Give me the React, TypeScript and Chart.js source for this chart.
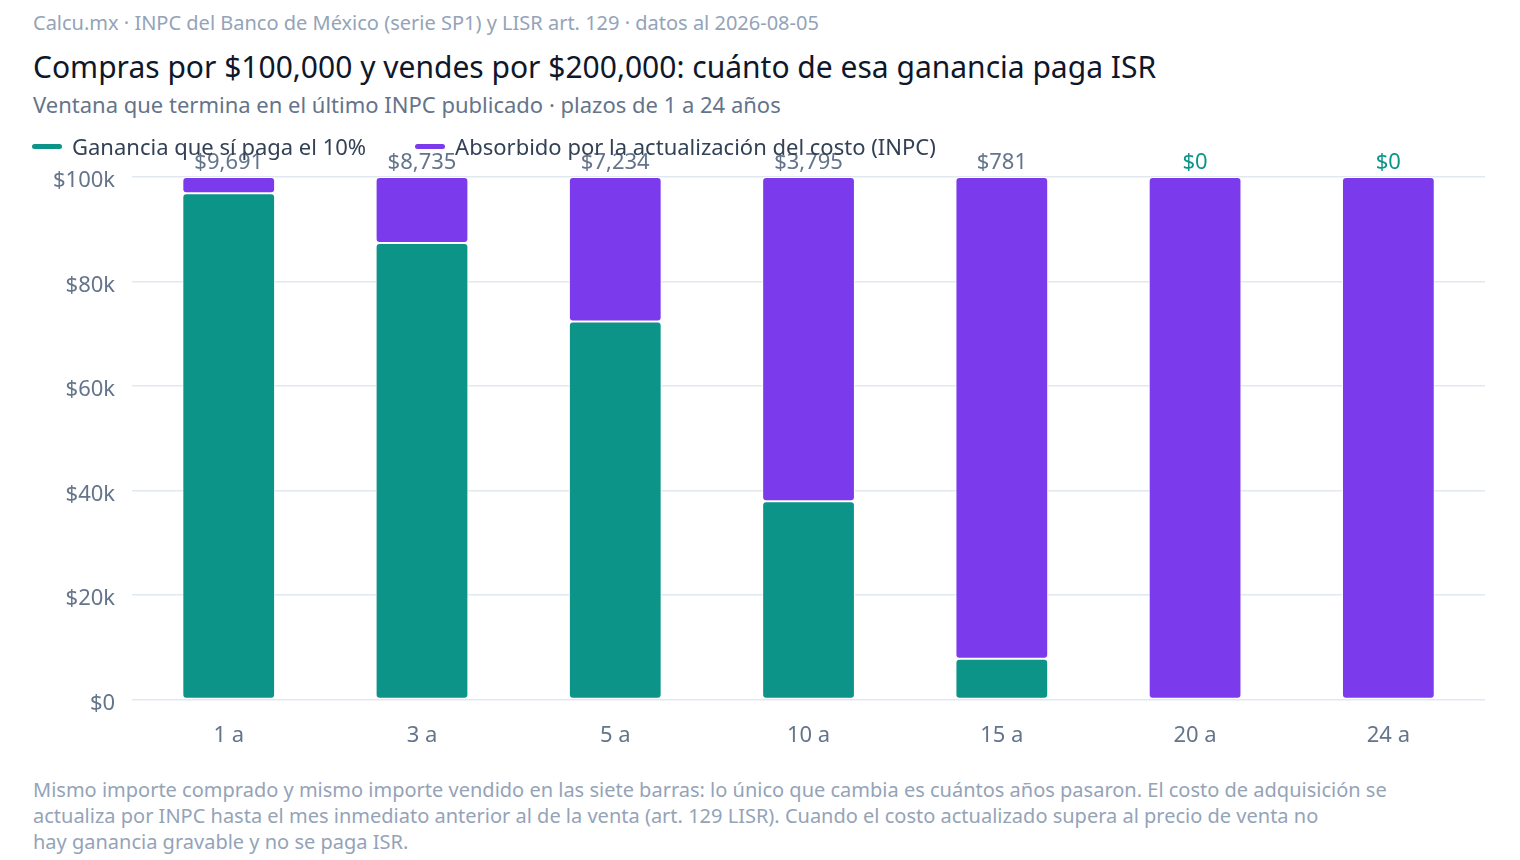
import { useEffect, useRef } from 'react';
import Chart from 'chart.js/auto';

const plazos = ['1 a', '3 a', '5 a', '10 a', '15 a', '20 a', '24 a'];
// ganancia gravable (paga 10%) y parte absorbida por la actualización INPC
const gananciaGravable = [96910, 87350, 72340, 37950, 7810, 0, 0];
const absorbido = [3090, 12650, 27660, 62050, 92190, 100000, 100000];
const isrPagado = [9691, 8735, 7234, 3795, 781, 0, 0];
const seriesNames = ['Ganancia que sí paga el 10%', 'Absorbido por la actualización del costo (INPC)'];

const TEAL = '#0d9488';
const VIOLET = '#7c3aed';
const FONT = "'Noto Sans', sans-serif";

const fmtMoney = (v: number) => '$' + v.toLocaleString('en-US');

export default function App() {
  const canvasRef = useRef<HTMLCanvasElement | null>(null);

  useEffect(() => {
    document.body.style.margin = '0';
    if (!canvasRef.current) return;

    const isrLabels = {
      id: 'isrLabels',
      afterDatasetsDraw(chart: Chart) {
        const { ctx } = chart;
        const meta = chart.getDatasetMeta(1);
        ctx.save();
        ctx.font = `22px ${FONT}`;
        ctx.textAlign = 'center';
        ctx.textBaseline = 'bottom';
        meta.data.forEach((bar: any, i: number) => {
          ctx.fillStyle = isrPagado[i] === 0 ? TEAL : '#64748b';
          ctx.fillText(fmtMoney(isrPagado[i]), bar.x, bar.y - 3);
        });
        ctx.restore();
      }
    };

    const radius = { topLeft: 4, topRight: 4, bottomLeft: 4, bottomRight: 4 };
    const common = {
      borderColor: '#ffffff',
      borderWidth: 1,
      borderRadius: radius,
      borderSkipped: false,
      categoryPercentage: 0.8,
      barPercentage: 0.6
    };

    const chart = new Chart(canvasRef.current, {
      type: 'bar',
      data: {
        labels: plazos,
        datasets: [
          { label: seriesNames[0], data: gananciaGravable, backgroundColor: TEAL, ...common },
          { label: seriesNames[1], data: absorbido, backgroundColor: VIOLET, ...common }
        ]
      },
      options: {
        responsive: true,
        maintainAspectRatio: false,
        animation: false,
        layout: { padding: { left: 0, right: 0, top: 57, bottom: 0 } },
        plugins: {
          legend: { display: false },
          tooltip: { enabled: false }
        },
        scales: {
          x: {
            stacked: true,
            grid: { display: false },
            border: { display: false },
            ticks: { font: { family: FONT, size: 22 }, color: '#64748b', padding: 15 }
          },
          y: {
            stacked: true,
            min: 0,
            max: 100000,
            grid: { color: '#e2e8f0', lineWidth: 1.5, drawTicks: false },
            border: { display: false },
            ticks: {
              stepSize: 20000,
              font: { family: FONT, size: 22 },
              color: '#64748b',
              padding: 17,
              labelOffset: 4,
              callback: (v: any) => (v === 0 ? '$0' : '$' + Number(v) / 1000 + 'k')
            }
          }
        }
      },
      plugins: [isrLabels]
    });

    return () => chart.destroy();
  }, []);

  const legendItem = (color: string, text: string) => (
    <div style={{ display: 'flex', alignItems: 'center', marginRight: 49 }}>
      <span style={{ width: 30, height: 5, borderRadius: 3, background: color, marginRight: 10 }} />
      <span>{text}</span>
    </div>
  );

  return (
    <div style={{ fontFamily: FONT, width: 1520, height: 860, position: 'relative', background: '#fff', overflow: 'hidden' }}>
      <div style={{ position: 'absolute', left: 33, top: 9, fontSize: 20, color: '#94a3b8', lineHeight: '28px' }}>
        Calcu.mx · INPC del Banco de México (serie SP1) y LISR art. 129 · datos al 2026-08-05
      </div>
      <div style={{ position: 'absolute', left: 33, top: 47, fontSize: 30, color: '#0f172a', lineHeight: '40px' }}>
        Compras por $100,000 y vendes por $200,000: cuánto de esa ganancia paga ISR
      </div>
      <div style={{ position: 'absolute', left: 33, top: 89, fontSize: 22, color: '#64748b', lineHeight: '30px' }}>
        Ventana que termina en el último INPC publicado · plazos de 1 a 24 años
      </div>
      <div style={{ position: 'absolute', left: 36, top: 120, width: 1449, height: 644 }}>
        <canvas ref={canvasRef} />
      </div>
      <div style={{ position: 'absolute', left: 32, top: 131, display: 'flex', fontSize: 22, color: '#334155', lineHeight: '30px' }}>
        {legendItem(TEAL, seriesNames[0])}
        {legendItem(VIOLET, seriesNames[1])}
      </div>
      <div style={{ position: 'absolute', left: 33, top: 777, fontSize: 20, color: '#94a3b8', lineHeight: '26px', whiteSpace: 'nowrap' }}>
        Mismo importe comprado y mismo importe vendido en las siete barras: lo único que cambia es cuántos años pasaron. El costo de adquisición se
        <br />
        actualiza por INPC hasta el mes inmediato anterior al de la venta (art. 129 LISR). Cuando el costo actualizado supera al precio de venta no
        <br />
        hay ganancia gravable y no se paga ISR.
      </div>
    </div>
  );
}
